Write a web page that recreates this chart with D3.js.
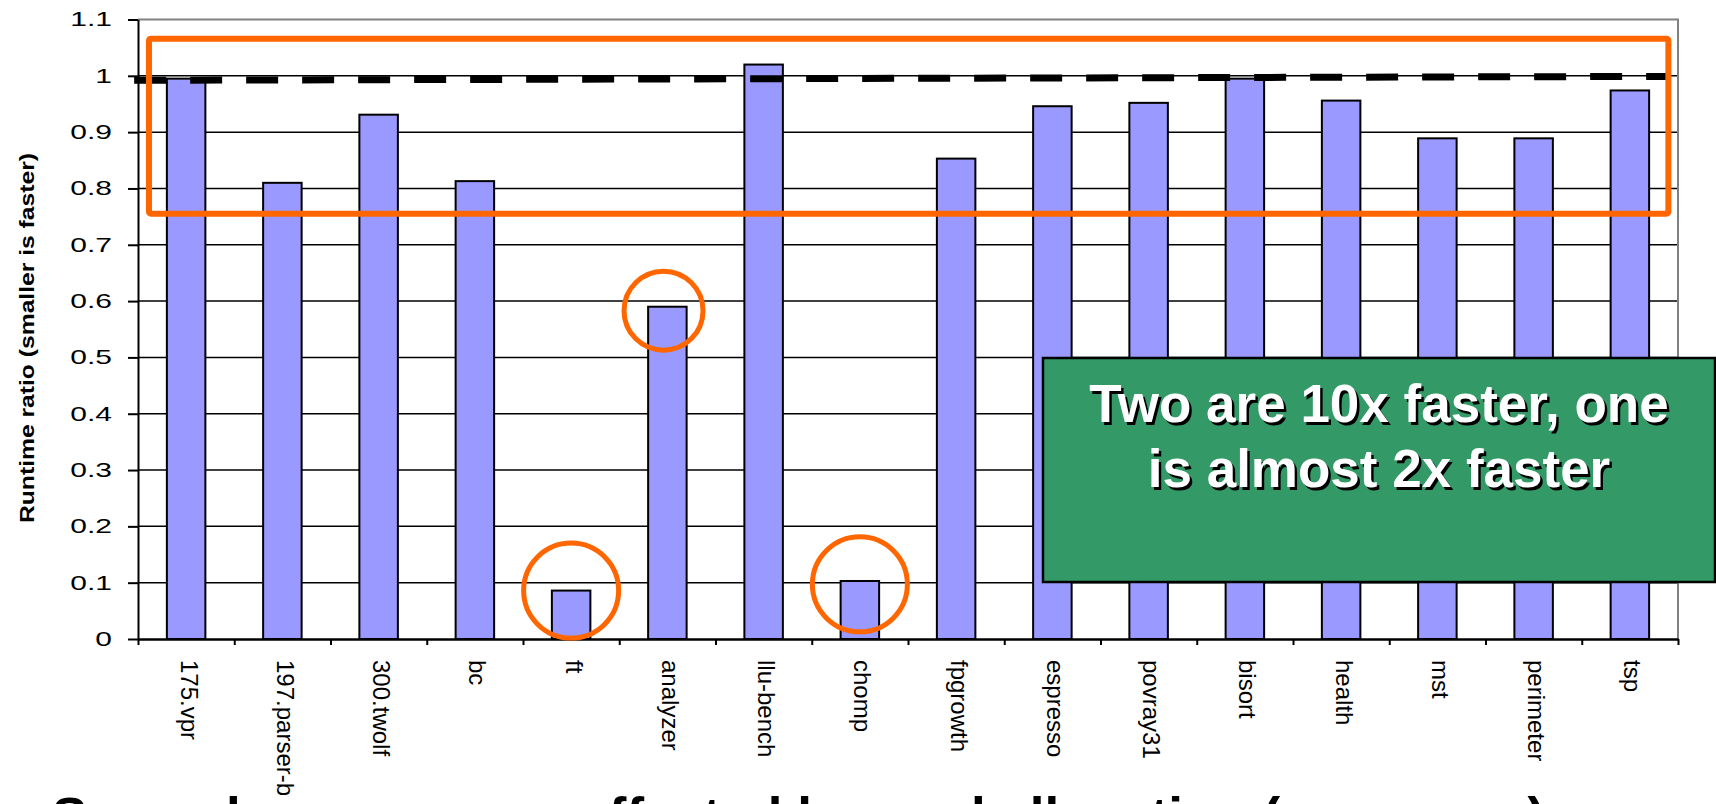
<!DOCTYPE html>
<html>
<head>
<meta charset="utf-8">
<script src="https://cdn.jsdelivr.net/npm/d3@7"></script>
<style>
    html, body { margin: 0; padding: 0; background: #fff; overflow: hidden; }
    svg { display: block; font-family: Arial, "Liberation Sans", sans-serif; }
</style>
</head>
<body>
<svg id="chart" width="1716" height="804"></svg>
<script>
// benchmark runtimes, pool allocated / original
const categories = ["175.vpr", "197.parser-b", "300.twolf", "bc", "ft", "analyzer", "llu-bench", "chomp",
    "fpgrowth", "espresso", "povray31", "bisort", "health", "mst", "perimeter", "tsp"]
const ratios = [0.995, 0.81, 0.931, 0.813, 0.086, 0.59, 1.02, 0.103,
    0.853, 0.946, 0.952, 0.995, 0.956, 0.889, 0.889, 0.974]

const yTicks = [0, 0.1, 0.2, 0.3, 0.4, 0.5, 0.6, 0.7, 0.8, 0.9, 1, 1.1]
const yTickLabels = ["0", "0.1", "0.2", "0.3", "0.4", "0.5", "0.6", "0.7", "0.8", "0.9", "1", "1.1"]
const yTitle = "Runtime ratio (smaller is faster)"

// annotations, in category index / ratio units
const refLine = [[-0.04, 0.992], [15.9, 0.999]]
const highlightBox = [0.114, 15.9, 1.066, 0.755]      // x0, x1, top, bottom
const circledNames = ["ft", "analyzer", "chomp"]
const circledCenters = [[4.5, 0.086], [5.46, 0.583], [7.5, 0.097]]
const calloutLines = ["Two are 10x faster, one", "is almost 2x faster"]
const footnote = "Several programs unaffected by pool allocation (see paper)"

const plot = {left: 138, top: 19.5, right: 1678, bottom: 639}
const svg = d3.select("#chart")

const y = d3.scaleLinear().domain([0, 1.1]).range([plot.bottom, plot.top])
const xBand = d3.scaleBand().domain(categories).range([plot.left, plot.right])
const xPos = d3.scaleLinear().domain([0, categories.length]).range([plot.left, plot.right])

function renderGrid() {
    svg.append("g")
        .selectAll("line")
        .data(yTicks.filter(d => d > 0 && d < 1.1))
        .enter()
        .append("line")
        .attr("x1", plot.left).attr("x2", plot.right)
        .attr("y1", d => y(d)).attr("y2", d => y(d))
        .attr("stroke", "#000").attr("stroke-width", 1.5)

    // top and right frame are grey in the original
    svg.append("path")
        .attr("d", `M${plot.left},${y(1.1)}H${plot.right}V${plot.bottom}`)
        .attr("fill", "none").attr("stroke", "#808080").attr("stroke-width", 2)
}

function renderBars() {
    const bw = xBand.bandwidth()
    svg.append("g")
        .selectAll("rect")
        .data(categories)
        .enter()
        .append("rect")
        .attr("x", c => xBand(c) + bw * 0.3)
        .attr("width", bw * 0.4)
        .attr("y", (c, i) => y(ratios[i]))
        .attr("height", (c, i) => y(0) - y(ratios[i]))
        .attr("fill", "#9999FF")
        .attr("stroke", "#000").attr("stroke-width", 2)
}

function renderAxes() {
    const yAxis = svg.append("g")
        .attr("transform", `translate(${plot.left},0)`)
        .call(d3.axisLeft(y).tickValues(yTicks).tickFormat((d, i) => yTickLabels[i])
            .tickSize(10).tickSizeOuter(0))
    yAxis.selectAll("text")
        .attr("x", 0)
        .attr("transform", "translate(-26,0) scale(1.5,1)")
        .attr("font-size", 20).attr("fill", "#000")
    yAxis.selectAll("line").attr("stroke", "#000").attr("stroke-width", 2)
    yAxis.select(".domain").attr("stroke", "#000").attr("stroke-width", 2)

    const xTicks = svg.append("g")
        .attr("transform", `translate(0,${plot.bottom})`)
        .call(d3.axisBottom(xPos).tickValues(d3.range(categories.length + 1)).tickFormat("")
            .tickSize(6).tickSizeOuter(0))
    xTicks.selectAll("line").attr("stroke", "#000").attr("stroke-width", 2)
    xTicks.select(".domain").attr("stroke", "#000").attr("stroke-width", 2.5)

    const xLabels = svg.append("g")
        .attr("transform", `translate(0,${plot.bottom})`)
        .call(d3.axisBottom(xBand).tickSize(0).tickSizeOuter(0))
    xLabels.select(".domain").remove()
    xLabels.selectAll("text")
        .attr("transform", "rotate(90)")
        .attr("x", 21).attr("y", -3).attr("dy", "0.35em")
        .style("text-anchor", "start")
        .attr("font-size", 24).attr("fill", "#000")

    svg.append("text")
        .attr("transform", `translate(34,338) rotate(-90)`)
        .attr("text-anchor", "middle")
        .attr("font-size", 21).attr("font-weight", "bold")
        .attr("textLength", 370).attr("lengthAdjust", "spacingAndGlyphs")
        .text(yTitle)
}

function renderAnnotations() {
    svg.append("line")
        .attr("x1", xPos(refLine[0][0])).attr("y1", y(refLine[0][1]))
        .attr("x2", xPos(refLine[1][0])).attr("y2", y(refLine[1][1]))
        .attr("stroke", "#000").attr("stroke-width", 7)
        .attr("stroke-dasharray", "32 24")

    const [bx0, bx1, bTop, bBottom] = highlightBox
    svg.append("rect")
        .attr("x", xPos(bx0)).attr("y", y(bTop))
        .attr("width", xPos(bx1) - xPos(bx0)).attr("height", y(bBottom) - y(bTop))
        .attr("rx", 2)
        .attr("fill", "none").attr("stroke", "#FF6600").attr("stroke-width", 6)

    svg.append("g")
        .selectAll("circle")
        .data(circledNames)
        .enter()
        .append("circle")
        .attr("cx", (d, i) => xPos(circledCenters[i][0]))
        .attr("cy", (d, i) => y(circledCenters[i][1]))
        .attr("r", d => d === "analyzer" ? 39.5 : 47.5)
        .attr("fill", "none").attr("stroke", "#FF6600").attr("stroke-width", 5)

    // green callout box
    svg.append("rect")
        .attr("x", 1043).attr("y", 358).attr("width", 672).attr("height", 224)
        .attr("fill", "#339966").attr("stroke", "#000").attr("stroke-width", 2.5)

    const callout = svg.append("g")
        .attr("font-size", 53).attr("font-weight", "bold").attr("text-anchor", "middle")
    calloutLines.forEach((line, i) => {
        callout.append("text")
            .attr("x", 1381.5).attr("y", 424.5 + i * 65)
            .attr("fill", "#000").text(line)
        callout.append("text")
            .attr("x", 1379).attr("y", 422 + i * 65)
            .attr("fill", "#fff").text(line)
    })

    svg.append("text")
        .attr("x", 52).attr("y", 835)
        .attr("font-size", 53).attr("font-weight", "bold")
        .text(footnote)
}

renderGrid()
renderBars()
renderAxes()
renderAnnotations()
</script>
</body>
</html>
